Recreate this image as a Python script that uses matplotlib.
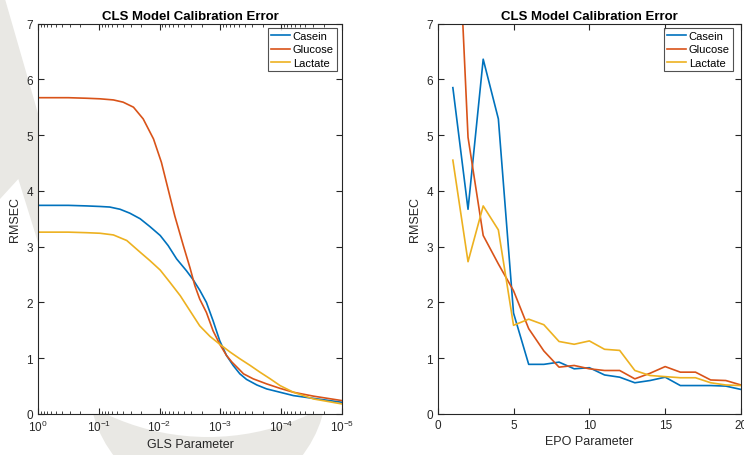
import numpy as np
import matplotlib
matplotlib.use("Agg")
import matplotlib.pyplot as plt
from matplotlib.patches import Polygon, Ellipse
from matplotlib.ticker import LogLocator, NullFormatter, FixedLocator

plt.rcParams["font.family"] = ["Liberation Sans", "DejaVu Sans"]
plt.rcParams["mathtext.fontset"] = "custom"
plt.rcParams["mathtext.rm"] = "Liberation Sans"
plt.rcParams["mathtext.it"] = "Liberation Sans:italic"
plt.rcParams["mathtext.bf"] = "Liberation Sans:bold"

# ---------- DATA ----------
SERIES = ["Casein", "Glucose", "Lactate"]
COLORS = ["#0072BD", "#D95319", "#EDB120"]

# left panel: GLS parameter (given as log10) vs RMSEC
gls_casein_log = [0, -0.5, -0.8, -1.02, -1.18, -1.35, -1.51, -1.68, -1.84, -2.01,
                  -2.14, -2.28, -2.44, -2.55, -2.66, -2.77, -2.88, -2.99, -3.10,
                  -3.21, -3.32, -3.43, -3.60, -3.76, -3.98, -4.20, -4.53, -5.0]
gls_casein = [3.74, 3.74, 3.73, 3.72, 3.71, 3.67, 3.60, 3.50, 3.36, 3.20,
              3.02, 2.78, 2.57, 2.41, 2.22, 2.00, 1.67, 1.31, 1.05,
              0.87, 0.72, 0.62, 0.52, 0.45, 0.39, 0.33, 0.28, 0.21]

gls_glucose_log = [0, -0.5, -0.8, -1.02, -1.24, -1.40, -1.57, -1.73, -1.90, -2.03,
                   -2.14, -2.25, -2.39, -2.50, -2.58, -2.66, -2.77, -2.88, -2.99,
                   -3.10, -3.19, -3.30, -3.38, -3.54, -3.76, -3.98, -4.20, -4.53,
                   -5.0]
gls_glucose = [5.67, 5.67, 5.66, 5.65, 5.63, 5.59, 5.50, 5.29, 4.93, 4.51,
               4.03, 3.55, 3.02, 2.62, 2.30, 2.06, 1.82, 1.49, 1.25,
               1.05, 0.93, 0.81, 0.72, 0.63, 0.54, 0.46, 0.39, 0.32,
               0.24]

gls_lactate_log = [0, -0.5, -0.8, -1.02, -1.24, -1.46, -1.68, -1.84, -2.01, -2.17,
                   -2.34, -2.50, -2.66, -2.83, -2.99, -3.16, -3.32, -3.49, -3.65,
                   -3.82, -3.98, -4.20, -4.53, -5.0]
gls_lactate = [3.26, 3.26, 3.25, 3.24, 3.21, 3.11, 2.90, 2.75, 2.58, 2.36,
               2.12, 1.85, 1.58, 1.39, 1.25, 1.11, 0.99, 0.87, 0.75,
               0.63, 0.51, 0.39, 0.27, 0.18]

# right panel: EPO parameter vs RMSEC
epo = list(range(1, 21))
epo_casein = [5.85, 3.67, 6.36, 5.29, 1.81, 0.89, 0.89, 0.93, 0.81, 0.83,
              0.70, 0.66, 0.56, 0.60, 0.66, 0.51, 0.51, 0.51, 0.50, 0.44]
epo_glucose = [10.9, 4.96, 3.20, 2.69, 2.21, 1.53, 1.13, 0.84, 0.87, 0.81,
               0.78, 0.78, 0.63, 0.73, 0.85, 0.75, 0.75, 0.61, 0.60, 0.52]
epo_lactate = [4.55, 2.73, 3.73, 3.30, 1.59, 1.70, 1.60, 1.30, 1.25, 1.31,
               1.16, 1.14, 0.78, 0.69, 0.67, 0.65, 0.65, 0.56, 0.52, 0.51]

AX_COLOR = "#262626"
WM_COLOR = "#e9e8e4"
W, H = 744, 456


def px(x, y):
    # pixel (top-left origin) -> figure fraction
    return x / W, 1 - y / H


def style_axes(ax, legend_right):
    ax.set_facecolor("white")
    ax.tick_params(direction="in", which="both", top=True, right=True,
                   colors=AX_COLOR, labelsize=8.5, length=4)
    ax.tick_params(which="minor", length=2.5)
    for sp in ax.spines.values():
        sp.set_color(AX_COLOR)
        sp.set_linewidth(0.8)
    ax.set_ylim(0, 7)
    ax.set_yticks(range(0, 8))
    ax.set_ylabel("RMSEC", fontsize=9, color=AX_COLOR)
    ax.set_title("CLS Model Calibration Error", fontsize=9.5, fontweight="bold",
                 pad=3)
    leg = ax.legend(loc="upper right", bbox_to_anchor=(legend_right, 0.9885),
                    borderaxespad=0, fontsize=8, frameon=True, fancybox=False,
                    borderpad=0.3, handlelength=1.75, handletextpad=0.2,
                    labelspacing=0.28)
    leg.get_frame().set_edgecolor(AX_COLOR)
    leg.get_frame().set_linewidth(0.8)


fig = plt.figure(figsize=(7.44, 4.56), dpi=100)

# faint watermark behind the axes: a wedge on the left, a crescent at the bottom
wedge = [px(0, 0), px(5, 0), px(50, 156), px(50, 282), px(18.3, 180), px(0, 200)]
fig.patches.append(Polygon(wedge, closed=True, transform=fig.transFigure,
                           facecolor=WM_COLOR, edgecolor="none", zorder=-5))
disc = Ellipse(px(208, 384), 2 * 119 / W, 2 * 119 / H, transform=fig.transFigure,
               facecolor=WM_COLOR, edgecolor="none", zorder=-5)
hole = Ellipse(px(208, 200), 2 * 238 / W, 2 * 238 / H, transform=fig.transFigure,
               facecolor="white", edgecolor="none", zorder=-4)
fig.patches.append(disc)
fig.patches.append(hole)
hole.set_clip_path(disc)

ax1 = fig.add_axes([38 / W, 41 / H, 304 / W, 390.5 / H])
ax2 = fig.add_axes([437.7 / W, 41 / H, 303.3 / W, 390.5 / H])

# ---------- LEFT ----------
for name, col, lx, y in zip(SERIES, COLORS,
                            [gls_casein_log, gls_glucose_log, gls_lactate_log],
                            [gls_casein, gls_glucose, gls_lactate]):
    ax1.plot(10.0 ** np.array(lx), y, color=col, lw=1.2, label=name)
ax1.set_xscale("log")
ax1.set_xlim(1, 1e-5)
ax1.xaxis.set_major_locator(FixedLocator([1, 1e-1, 1e-2, 1e-3, 1e-4, 1e-5]))
ax1.xaxis.set_minor_locator(LogLocator(base=10, subs=np.arange(2, 10)))
ax1.xaxis.set_minor_formatter(NullFormatter())
ax1.set_xticklabels(["$10^{0}$", "$10^{-1}$", "$10^{-2}$", "$10^{-3}$",
                     "$10^{-4}$", "$10^{-5}$"])
ax1.set_xlabel("GLS Parameter", fontsize=9, color=AX_COLOR, labelpad=3)
style_axes(ax1, 0.9836)

# ---------- RIGHT ----------
for name, col, y in zip(SERIES, COLORS, [epo_casein, epo_glucose, epo_lactate]):
    ax2.plot(epo, y, color=col, lw=1.2, label=name)
ax2.set_xlim(0, 20)
ax2.set_xticks([0, 5, 10, 15, 20])
ax2.set_xlabel("EPO Parameter", fontsize=9, color=AX_COLOR, labelpad=3)
style_axes(ax2, 0.9736)

fig.savefig("out.png", dpi=100)
